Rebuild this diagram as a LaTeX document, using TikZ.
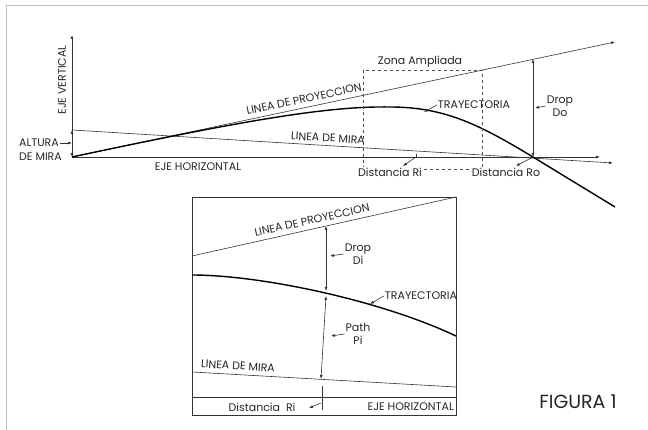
\documentclass[tikz,border=0pt]{standalone}
\usepackage{fontspec}
\setmainfont{Poppins}
\usetikzlibrary{arrows.meta}
\begin{document}
\begin{tikzpicture}[x=1pt,y=-1pt,>={Latex[length=4pt,width=3pt]},
  thin line/.style={line width=0.6pt,draw=black!80},
  path line/.style={line width=1.4pt,draw=black},
  zone/.style={dashed,line width=0.6pt,draw=black!70},
  label/.style={font=\fontsize{11}{13}\selectfont,inner sep=1pt,text=black!85}]
  \useasboundingbox (0,0) rectangle (648,430);
  \draw[gray!50,line width=0.8pt] (648,5) -- (6,5) -- (6,430);

  % figura principal
  \coordinate (O) at (72,157);
  \coordinate (V) at (72,35);
  \coordinate (M) at (72,130);
  \coordinate (H) at (600,157);
  \coordinate (Mend) at (613,163);
  \coordinate (Pend) at (615,42);
  \coordinate (P) at (533,59);
  \coordinate (X) at (533,157);
  \coordinate (T) at (390,107);
  \coordinate (Tend) at (615,207);
  \coordinate (Ri) at (416,157);

  \draw[thin line,->] (O) -- (V);
  \draw[thin line,->] (O) -- (H);
  \draw[thin line,->] (M) -- (Mend);
  \draw[thin line,->] (O) -- (Pend);
  \draw[thin line,<->] (M) -- (O);
  \draw[path line] (O) .. controls (250,119) and (330,106) .. (T)
    .. controls (445,107) and (480,125) .. (X) -- (Tend);
  \draw[thin line,<->] (P) -- (X);
  \draw[zone] (363,169) rectangle (482,70);
  \draw[thin line] (416,154) -- (Ri);

  \node[label] (zona) at (420,62) {Zona Ampliada};
  \node[label,rotate=90] (vert) at (62,80) {EJE VERTICAL};
  \node[label] (horiz) at (198,167) {EJE HORIZONTAL};
  \node[label,anchor=west] (altura) at (18,143) {ALTURA};
  \node[label,anchor=west] (demira) at (18,157) {DE MIRA};
  \node[label,rotate=12] (proy) at (304,99) {LINEA DE PROYECCION};
  \node[label,rotate=-3.5] (mira) at (328,138) {LINEA DE MIRA};
  \node[label] (tray) at (474,105) {TRAYECTORIA};
  \node[label,align=center] (dropDo) at (560,106) {Drop\\Do};
  \node[label,fill=white] (distRi) at (390,172) {Distancia Ri};
  \node[label,fill=white] (distRo) at (506,172) {Distancia Ro};

  \draw[thin line,->] (altura.east) -- (72,143);
  \draw[thin line,->] (tray.west) -- (424,112);
  \draw[thin line,->] (dropDo.west) -- (535,108);
  \draw[thin line,->] (Ri) -- (403,166);
  \draw[thin line,->] (X) -- (516,166);

  % zona ampliada
  \draw[thin line] (192,197) rectangle (456,415);
  \draw[thin line] (192,397) -- (456,397);
  \draw[thin line] (192,256) -- (456,197);
  \draw[thin line] (192,372) -- (456,387);
  \draw[path line] (192,275) .. controls (260,275) and (380,300) .. (456,336);
  \draw[thin line,<->] (326,226) -- (326,291);
  \draw[thin line,<->] (326,296) -- (321,379);
  \draw[thin line] (322,386) -- (322,410);

  \node[label,rotate=12.5] (proyI) at (312,220) {LINEA DE PROYECCION};
  \node[label,rotate=-3.5] (miraI) at (238,366) {LINEA DE MIRA};
  \node[label] (trayI) at (421,296) {TRAYECTORIA};
  \node[label,align=center] (dropDi) at (358,254) {Drop\\Di};
  \node[label,align=center] (pathPi) at (358,334) {Path\\Pi};
  \node[label] (distRiI) at (262,407) {Distancia\ \ Ri};
  \node[label,anchor=east] (horizI) at (455,407) {EJE HORIZONTAL};

  \draw[thin line,->] (trayI.west) -- (370,304);
  \draw[thin line,->] (dropDi.west) -- (330,256);
  \draw[thin line,->] (pathPi.west) -- (331,336);
  \draw[thin line,->] (321,403) -- (309,408);

  \node[font=\fontsize{19}{22}\selectfont,text=black!85] (fig) at (578,402) {FIGURA 1};
\end{tikzpicture}
\end{document}
